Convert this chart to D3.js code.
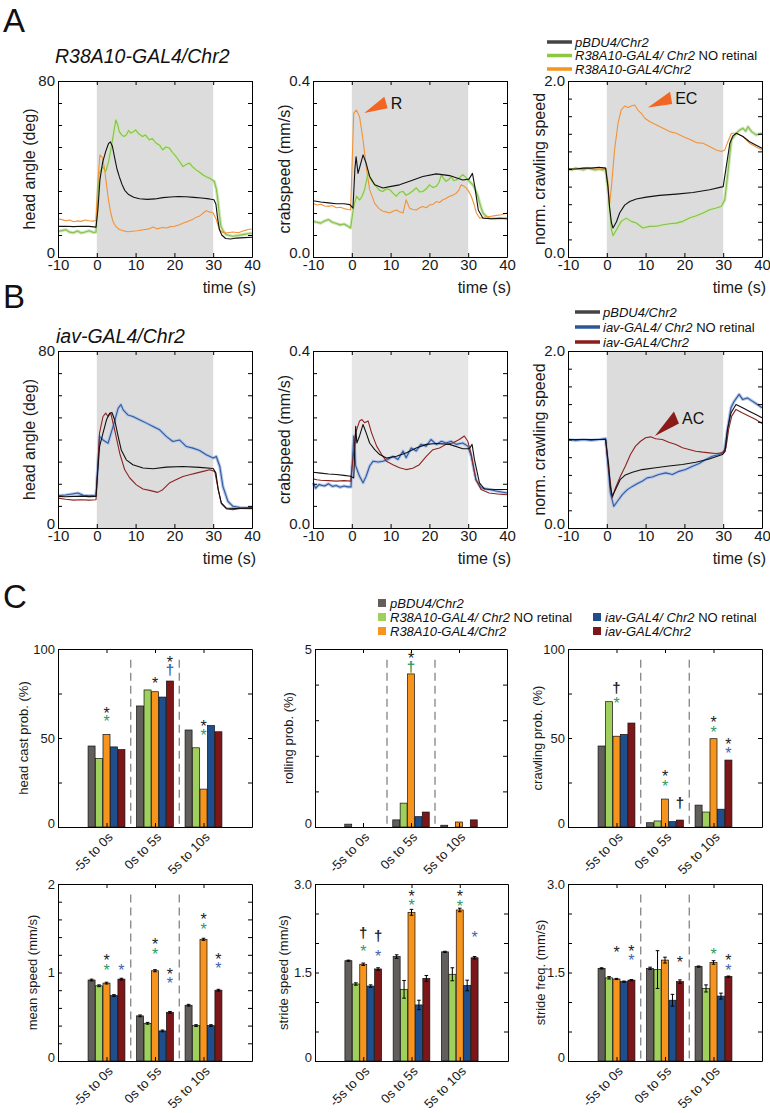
<!DOCTYPE html>
<html><head><meta charset="utf-8">
<script src="https://cdn.jsdelivr.net/npm/d3@7"></script>
<style>body{margin:0;background:#fff}svg{display:block}text{font-family:"Liberation Sans",Arial,Helvetica,sans-serif;white-space:pre}</style>
</head><body><svg id="fig" width="770" height="1113"></svg>
<script>
// ---------------- DATA ----------------
const timeTicks = [-10, 0, 10, 20, 30, 40];
const stimWindow = [0, 30];
const headAngleTicks = [0,10,20,30,40,50,60,70,80];
const crabTicks = [0,0.05,0.1,0.15,0.2,0.25,0.3,0.35,0.4];
const normTicks = [0,0.2,0.4,0.6,0.8,1.0,1.2,1.4,1.6,1.8,2.0];

// Panel A: R38A10 (black = pBDU4, green = no retinal, orange = R38A10)
const A_head_black = [[-10,13.9],[-8,14.0],[-6,13.8],[-4,14.0],[-2,13.9],[-0.2,13.6],[0.3,22],[0.8,35],[1.5,43],[2.3,48],[3.0,51.5],[3.5,52.3],[4.0,50.5],[4.5,46],[5.2,40],[5.8,36.5],[6.5,33],[7.2,30.3],[8.2,28.4],[9.5,27.2],[11,26.5],[13,26.2],[15,26.4],[17,27],[19,27.3],[21,27.5],[23,27.4],[25,27.1],[27,26.8],[29,26.4],[30.2,26],[30.7,24],[31.1,18],[31.6,12.5],[32.2,10],[33.2,8.4],[34.5,8.2],[36,8.6],[38,8.8],[40,9.0]];
const A_head_green = [[-10,11.6],[-9,12.0],[-8,12.4],[-7,11.3],[-6,11.0],[-5,11.8],[-4,10.9],[-3,11.4],[-2,11.9],[-1,11.2],[-0.2,11.3],[0.6,38],[1.5,41],[2.3,38.9],[3,43],[3.6,48.7],[4.3,56],[4.9,62.3],[5.4,60],[5.8,57],[6.4,55.5],[7,54.8],[7.6,55.5],[8.2,57.5],[8.8,56.3],[9.5,57],[10,57.8],[10.8,56],[11.8,54.8],[12.5,55.5],[13.5,53.3],[14.3,53.8],[15.3,51.7],[16.2,50.8],[17,48.7],[17.8,50],[18.7,49.5],[19.5,47.5],[20.4,45.7],[21.3,43.5],[22.2,41.1],[23,42],[23.9,42.7],[24.7,41],[25.6,39.6],[26.5,38.5],[27.3,37.4],[28.2,36.5],[29,35.9],[30.3,34.3],[30.8,31],[31.2,26],[31.6,19],[32,13.9],[32.7,11.5],[33.4,10.1],[35,9.4],[36.5,9.8],[38,10.3],[39,10.6],[40,10.9]];
const A_head_orange = [[-10,17.4],[-9,17.0],[-8,16.5],[-7,16.8],[-6,16.0],[-5,16.4],[-4,16.2],[-3,16.8],[-2,16.5],[-1,16.3],[-0.2,16.6],[0.3,35],[0.8,46.4],[1.5,45],[2.0,40],[2.5,33],[3.0,26],[3.6,20],[4.2,16],[4.9,13.9],[5.8,12.5],[6.6,12],[8,11.5],[9.2,11.7],[10.5,11.9],[12,12.4],[13.5,12.8],[14.5,13.6],[15.5,12.8],[17,13.4],[18,13.2],[19,13.8],[20,14.0],[21.3,14.7],[22.5,15.6],[23.5,16.2],[24.7,17],[25.5,18],[26.5,18.6],[27.3,19.8],[28.2,21],[29,20.5],[30,20],[30.8,17],[31.6,12.4],[32.4,11.2],[33.4,10.9],[35,11.4],[36.5,11.0],[38,12],[39,12.5],[40,12.7]];

const A_crab_black = [[-10,0.128],[-8,0.125],[-6,0.123],[-4,0.121],[-2,0.121],[-0.5,0.119],[0.3,0.111],[0.8,0.2],[1.1,0.228],[1.6,0.19],[2.1,0.206],[2.9,0.232],[3.7,0.213],[4.6,0.183],[5.9,0.164],[8,0.157],[9.8,0.160],[12.3,0.164],[14.9,0.172],[18.3,0.183],[21.8,0.189],[25.2,0.185],[28.6,0.175],[30.2,0.177],[31.1,0.19],[31.7,0.160],[32.6,0.107],[33.8,0.088],[36,0.087],[38,0.088],[40,0.087]];
const A_crab_green = [[-10,0.081],[-9,0.079],[-8,0.077],[-7,0.082],[-6,0.085],[-5,0.079],[-4,0.076],[-3,0.073],[-2,0.075],[-1,0.07],[-0.3,0.066],[0.5,0.115],[1.2,0.138],[2,0.13],[2.6,0.137],[3.3,0.153],[4.2,0.191],[5,0.175],[5.6,0.168],[6.3,0.16],[7.1,0.152],[8,0.149],[8.9,0.155],[9.8,0.153],[10.6,0.145],[11.5,0.138],[12.3,0.147],[13.2,0.149],[14,0.14],[14.9,0.145],[15.7,0.15],[16.6,0.157],[17.5,0.148],[18.3,0.149],[19.2,0.155],[20,0.164],[20.9,0.158],[21.8,0.161],[22.5,0.17],[23.1,0.187],[23.7,0.178],[24.3,0.172],[25,0.176],[25.6,0.183],[26.2,0.174],[26.9,0.175],[27.7,0.18],[28.6,0.187],[29.3,0.182],[29.9,0.175],[30.5,0.17],[31.2,0.164],[31.9,0.152],[32.5,0.138],[33.2,0.115],[33.8,0.1],[34.6,0.093],[35.5,0.088],[37,0.087],[38.5,0.088],[40,0.088]];
const A_crab_orange = [[-10,0.122],[-9,0.118],[-8,0.12],[-7,0.116],[-6,0.115],[-5,0.117],[-4,0.112],[-3,0.113],[-2,0.11],[-1,0.108],[-0.3,0.107],[0.5,0.327],[1.2,0.334],[2,0.319],[2.9,0.266],[3.7,0.206],[4.6,0.153],[5.9,0.122],[7,0.11],[8,0.104],[9,0.102],[9.8,0.1],[10.6,0.104],[11.5,0.107],[12.3,0.103],[13.2,0.1],[14,0.13],[14.9,0.111],[15.7,0.108],[16.6,0.107],[17.5,0.112],[18.3,0.115],[19.2,0.112],[20,0.118],[21,0.12],[21.8,0.126],[22.6,0.124],[23.5,0.13],[24.3,0.133],[25.2,0.138],[26,0.14],[26.9,0.145],[27.6,0.152],[28.2,0.164],[29,0.16],[29.5,0.157],[30.2,0.148],[30.8,0.138],[31.5,0.12],[32.1,0.1],[33,0.088],[34,0.09],[35.5,0.092],[37,0.094],[38.5,0.096],[40,0.1]];

const A_norm_black = [[-10,1.0],[-8,1.0],[-6,1.01],[-4,1.01],[-2,1.02],[-0.3,1.01],[0.3,0.8],[0.7,0.57],[1.2,0.386],[1.6,0.33],[2.5,0.40],[3.3,0.5],[4.6,0.59],[5.9,0.63],[7.6,0.66],[10.2,0.68],[13.6,0.70],[17.9,0.715],[22.2,0.733],[26.5,0.764],[30,0.80],[30.8,1.03],[31.7,1.29],[32.5,1.376],[33.4,1.406],[35.1,1.369],[36.8,1.31],[38.5,1.27],[40,1.236]];
const A_norm_green = [[-10,1.0],[-9,0.99],[-8,1.01],[-7,1.0],[-6,0.99],[-5,1.01],[-4,1.0],[-3,0.99],[-2,1.0],[-1,0.99],[-0.3,1.0],[0.3,0.76],[1.2,0.31],[1.6,0.242],[2.5,0.31],[3.7,0.405],[5,0.442],[6.3,0.405],[7.6,0.386],[9.3,0.33],[11,0.348],[12.8,0.35],[14.5,0.367],[16.2,0.378],[17.9,0.385],[19.6,0.405],[21.3,0.442],[23.1,0.469],[24.8,0.5],[26.5,0.537],[28.2,0.556],[29.5,0.575],[30.4,0.65],[31.2,0.953],[32.1,1.33],[33.4,1.406],[34.3,1.444],[35.1,1.463],[35.8,1.43],[36.4,1.48],[37.3,1.425],[38.5,1.388],[40,1.406]];
const A_norm_orange = [[-10,1.0],[-8,1.0],[-6,1.01],[-4,1.01],[-2,1.01],[-0.3,1.01],[0.3,0.85],[0.7,0.594],[1.2,0.80],[2,1.217],[2.9,1.52],[3.7,1.67],[4.6,1.716],[5.5,1.70],[6.3,1.716],[7.2,1.728],[8,1.67],[8.9,1.633],[9.8,1.577],[11,1.539],[12.8,1.50],[14.5,1.463],[16.2,1.425],[17.9,1.406],[19.6,1.369],[21.3,1.338],[23.1,1.30],[24.8,1.293],[26.5,1.255],[28.2,1.217],[29.5,1.198],[30.4,1.217],[31.2,1.31],[32.1,1.406],[33.4,1.406],[35.1,1.369],[36.8,1.293],[38.5,1.25],[40,1.217]];

// Panel B: iav (black = pBDU4, blue = no retinal, red = iav)
const B_head_black = [[-10,14.3],[-8,14.1],[-6,14.3],[-4,14.4],[-2,14.2],[-0.2,14.3],[0.7,36.8],[1.6,42.9],[2.5,48.9],[3.3,51.9],[3.9,52.2],[4.6,48.9],[5.5,41.4],[6.3,35.3],[7.6,30.8],[9.3,28.6],[11.9,27.1],[14.5,26.8],[17.9,27.5],[22.2,27.8],[26.5,27.4],[30,26.9],[30.7,24.8],[31.3,17.3],[32.1,11.3],[33.4,9],[36,8.8],[40,9]];
const B_head_blue = [[-10,14.6],[-8,14.9],[-6,15.5],[-4.9,15.8],[-3.5,14.8],[-2,14.6],[-0.2,14.8],[0.7,41.4],[1.6,39.8],[2.9,38.3],[4.2,45.9],[5.5,54.1],[6.2,55.8],[6.8,53.4],[8,51.1],[9.3,50.4],[11,48.9],[12.8,47.4],[14.5,45.9],[16.2,44.4],[17.9,41.4],[19.6,39.1],[21.3,39.8],[23.1,36.8],[24.8,36.1],[26.5,35],[28.2,33.1],[30,31.6],[30.8,32.3],[31.7,27.8],[32.5,18.8],[33.8,12],[35.1,9.8],[37,9.2],[40,9]];
const B_head_red = [[-10,13.5],[-8,13.0],[-6,12.6],[-4,12.8],[-2,12.6],[-0.2,12.8],[0.7,42.9],[1.6,50.4],[2.3,51.9],[2.9,50.4],[3.6,51.9],[4.6,44.4],[5.9,33.8],[7.2,26.3],[8.5,22.6],[10.2,19.5],[11.9,17.6],[13.6,17],[15.7,16.1],[17,17.3],[18.7,20.3],[20.4,21.8],[22.2,23.3],[23.9,24.1],[25.6,24.8],[27.4,25.6],[29.1,26.3],[30.4,25.6],[31.3,17.3],[32.1,11],[33.4,8.6],[35.1,8.3],[37,8.8],[40,9]];

const B_crab_black = [[-10,0.126],[-8,0.124],[-6,0.122],[-4,0.121],[-2,0.119],[-0.3,0.117],[0.5,0.113],[1,0.23],[1.3,0.192],[2,0.208],[2.9,0.234],[3.7,0.215],[4.6,0.192],[5.9,0.177],[7.2,0.166],[8.9,0.158],[11.5,0.162],[14.1,0.170],[16.6,0.181],[19.2,0.189],[21.8,0.191],[25.2,0.189],[28.6,0.179],[30.3,0.179],[31,0.189],[31.6,0.155],[32.9,0.102],[34.2,0.088],[37,0.087],[40,0.087]];
const B_crab_blue = [[-10,0.102],[-9.3,0.09],[-8.5,0.098],[-7,0.095],[-6,0.1],[-5,0.094],[-4,0.096],[-3,0.092],[-2,0.095],[-1,0.093],[-0.2,0.093],[0.5,0.208],[1,0.140],[2,0.117],[2.9,0.102],[3.7,0.117],[4.6,0.140],[5.5,0.151],[6.8,0.149],[8,0.151],[9.3,0.155],[10.6,0.162],[11.9,0.155],[13.2,0.174],[14,0.159],[15.3,0.181],[16.6,0.174],[17.8,0.189],[19.2,0.185],[20.4,0.2],[21.8,0.189],[23.1,0.196],[24.3,0.192],[25.6,0.196],[26.9,0.189],[28.6,0.192],[29.9,0.185],[30.8,0.162],[32,0.109],[33.3,0.091],[35.4,0.087],[37.5,0.083],[40,0.079]];
const B_crab_red = [[-10,0.111],[-9,0.109],[-8,0.108],[-6,0.107],[-4,0.106],[-2,0.107],[-0.3,0.106],[1,0.215],[2,0.242],[2.6,0.245],[3.3,0.238],[4.2,0.242],[5.1,0.215],[6.4,0.185],[7.7,0.166],[8.9,0.151],[10.6,0.143],[12.3,0.136],[14,0.132],[15.7,0.135],[17.4,0.143],[19.2,0.162],[20.9,0.177],[22.6,0.181],[24.3,0.189],[26,0.192],[27.7,0.2],[29,0.208],[29.9,0.196],[30.7,0.170],[32,0.109],[33.3,0.087],[35.4,0.079],[37.5,0.077],[40,0.075]];

const B_norm_black = [[-10,1.0],[-6,1.0],[-2,1.0],[-0.3,1.0],[0.5,0.70],[0.9,0.47],[1.4,0.36],[2.2,0.43],[3.5,0.55],[4.8,0.60],[6.6,0.63],[9.1,0.66],[12.6,0.68],[16,0.70],[19.5,0.717],[22.9,0.743],[26.4,0.78],[29.8,0.83],[30.5,0.868],[31.1,1.113],[32,1.30],[33.3,1.396],[35,1.358],[36.7,1.32],[38.4,1.283],[40,1.245]];
const B_norm_blue = [[-10,1.0],[-8,0.99],[-6,1.0],[-4,0.99],[-2,1.0],[-0.3,1.01],[0.9,0.4],[1.8,0.245],[2.7,0.30],[4,0.377],[5.3,0.434],[6.6,0.47],[7.8,0.50],[9.1,0.528],[10.4,0.566],[11.7,0.577],[13.4,0.604],[15.2,0.623],[16.9,0.604],[18.6,0.64],[20.3,0.66],[22.1,0.698],[23.8,0.728],[25.5,0.774],[27.2,0.81],[29,0.83],[30.3,0.868],[31.1,1.113],[32,1.358],[32.8,1.43],[34.1,1.51],[35,1.453],[36.2,1.47],[37.5,1.434],[38.8,1.396],[40,1.358]];
const B_norm_red = [[-10,1.0],[-6,1.0],[-2,1.0],[-0.3,1.0],[0.5,0.66],[1.4,0.34],[2.2,0.45],[3.5,0.585],[4.8,0.70],[6.1,0.83],[7.4,0.925],[8.7,0.98],[10,1.02],[11.3,1.03],[12.6,1.008],[14.3,1.0],[16,0.97],[17.8,0.943],[19.5,0.906],[21.2,0.887],[22.9,0.868],[24.7,0.857],[26.4,0.849],[28.1,0.842],[29.8,0.849],[30.7,0.906],[31.4,1.113],[32.2,1.264],[33.3,1.34],[35,1.30],[36.7,1.264],[38.4,1.226],[40,1.18]];

// Arrow annotations (data coordinates): [tip, upper, lower]
const arrowR = [[3.22,0.327],[8.38,0.364],[9.25,0.338]];
const arrowEC = [[10.6,1.70],[16.3,1.878],[16.85,1.739]];
const arrowAC = [[12.4,1.04],[17.3,1.315],[18.6,1.18]];

// Panel C bar data: rows = genotypes, columns = time windows
const categories = ['-5s to 0s', '0s to 5s', '5s to 10s'];
const genotypes = ['pBDU4/Chr2', 'R38A10-GAL4/ Chr2 NO retinal', 'R38A10-GAL4/Chr2', 'iav-GAL4/ Chr2 NO retinal', 'iav-GAL4/Chr2'];
const headCast = [[45.5,68,54.5],[38.5,77,44.5],[52,76,21.3],[45,73,57],[43.5,82,53.5]];
const rolling = [[0.08,0.2,0.05],[0,0.67,0],[0,4.3,0.14],[0,0.29,0],[0,0.42,0.2]];
const crawling = [[45.5,2.4,12.3],[70.4,3.4,8.4],[51,15.7,49.6],[52,3,10],[58.4,3.9,37.6]];
const meanSpeed = [[0.915,0.51,0.63],[0.85,0.426,0.40],[0.88,1.02,1.375],[0.74,0.34,0.40],[0.925,0.55,0.80]];
const meanSpeedErr = [[0.01,0.01,0.01],[0.01,0.01,0.01],[0.01,0.012,0.012],[0.01,0.01,0.01],[0.01,0.01,0.01]];
const strideSpeed = [[1.70,1.77,1.85],[1.305,1.215,1.47],[1.64,2.52,2.56],[1.27,0.95,1.28],[1.56,1.40,1.75]];
const strideSpeedErr = [[0.01,0.03,0.01],[0.02,0.15,0.11],[0.02,0.05,0.03],[0.02,0.08,0.09],[0.02,0.05,0.02]];
const strideFreq = [[1.57,1.57,1.60],[1.41,1.55,1.23],[1.39,1.71,1.67],[1.345,1.03,1.10],[1.37,1.345,1.43]];
const strideFreqErr = [[0.01,0.02,0.01],[0.02,0.32,0.06],[0.01,0.05,0.03],[0.01,0.1,0.05],[0.01,0.03,0.01]];
// significance marks: [window, genotype, height, symbol, colour]
const headCastMarks = [[0,2,66,'*','k'],[0,2,61,'*','g'],[1,2,82.6,'*','k'],[1,4,94.5,'*','k'],[1,4,88,'†','b'],[2,2,58.6,'*','k'],[2,2,53.4,'*','g']];
const rollingMarks = [[1,2,4.82,'*','k'],[1,2,4.5,'†','g']];
const crawlingMarks = [[0,2,78,'†','k'],[0,2,71.3,'*','g'],[1,2,30.3,'*','k'],[1,2,24.7,'*','g'],[1,4,13.5,'†','k'],[2,2,60.7,'*','k'],[2,2,55,'*','g'],[2,4,48.3,'*','k'],[2,4,43.3,'*','b']];
const meanSpeedMarks = [[0,2,1.175,'*','k'],[0,2,1.062,'*','g'],[0,4,1.062,'*','b'],[1,2,1.36,'*','k'],[1,2,1.246,'*','g'],[1,4,1.017,'*','k'],[1,4,0.915,'*','b'],[2,2,1.638,'*','k'],[2,2,1.529,'*','g'],[2,4,1.186,'*','k'],[2,4,1.085,'*','b']];
const strideSpeedMarks = [[0,2,2.175,'†','k'],[0,2,1.915,'*','g'],[0,4,2.12,'†','k'],[0,4,1.835,'*','b'],[1,2,2.85,'*','k'],[1,2,2.70,'*','g'],[2,2,2.85,'*','k'],[2,2,2.68,'*','g'],[2,4,2.15,'*','b']];
const strideFreqMarks = [[0,2,1.893,'*','k'],[0,4,1.915,'*','k'],[0,4,1.763,'*','b'],[1,4,1.73,'*','k'],[2,2,1.87,'*','g'],[2,4,1.758,'*','k'],[2,4,1.60,'*','b']];

// ---------------- STYLE ----------------
const FONT = '"Liberation Sans", Arial, Helvetica, sans-serif';
const barColors = ['#615e5b', '#9fd05c', '#f7941d', '#1f4e8d', '#7d1618'];
const markColors = {k:'#222', g:'#2f9a63', b:'#3f62b0'};
const C = {black:'#111', green:'#86bf4e', greenBand:'#cfe6b6', orange:'#f39237', blue:'#2d5aa0', blueBand:'#b7c6e6', red:'#8e2323'};

const svg = d3.select('#fig');
svg.append('rect').attr('width',770).attr('height',1113).attr('fill','#fff');

function styleAxis(g, fs) {
  g.attr('font-family', FONT).attr('font-size', fs);
  g.select('.domain').attr('stroke', '#000').attr('stroke-width', 1);
  g.selectAll('.tick line').attr('stroke', '#000');
  g.selectAll('.tick text').attr('fill', '#1a1a1a');
}
function frame(x, y, xTicks, yTicks, yFmt, xFmt, fs, xPad) {
  const [x0, x1] = x.range(); const [y0, y1] = y.range();
  let g;
  g = svg.append('g').attr('transform', `translate(0,${y0})`).call(d3.axisBottom(x).tickValues(xTicks).tickFormat(xFmt).tickSizeInner(-4).tickSizeOuter(0).tickPadding(xPad)); styleAxis(g, fs);
  g = svg.append('g').attr('transform', `translate(0,${y1})`).call(d3.axisTop(x).tickValues(xTicks).tickFormat('').tickSizeInner(-4).tickSizeOuter(0)); styleAxis(g, fs);
  g = svg.append('g').attr('transform', `translate(${x0},0)`).call(d3.axisLeft(y).tickValues(yTicks).tickFormat(yFmt).tickSizeInner(-4).tickSizeOuter(0).tickPadding(3)); styleAxis(g, fs);
  // lift the lowest label slightly so it clears the x tick labels (as in the original)
  g.selectAll('.tick').filter(d => d === yTicks[0]).select('text').attr('dy', '0.05em');
  g = svg.append('g').attr('transform', `translate(${x1},0)`).call(d3.axisRight(y).tickValues(yTicks).tickFormat('').tickSizeInner(-4).tickSizeOuter(0)); styleAxis(g, fs);
}
function yLabel(x, y, txt, fs) {
  svg.append('text').attr('transform', `translate(${x},${y}) rotate(-90)`).attr('text-anchor', 'middle')
    .attr('font-size', fs).attr('fill', '#1a1a1a').text(txt);
}

function linePanel(c) {
  const x = d3.scaleLinear().domain([-10, 40]).range([c.left, c.left + c.w]);
  const y = d3.scaleLinear().domain(c.yDomain).range([c.top + c.h, c.top]);
  svg.append('rect').attr('x', x(stimWindow[0])).attr('y', c.top).attr('width', x(stimWindow[1]) - x(stimWindow[0]))
    .attr('height', c.h).attr('fill', c.shade || '#dcdcdc');
  const line = d3.line().x(d => x(d[0])).y(d => y(d[1]));
  c.series.forEach(s => {
    if (s.band) svg.append('path').datum(s.data).attr('d', line).attr('fill', 'none').attr('stroke', s.band)
      .attr('stroke-width', 3.2).attr('stroke-linejoin', 'round');
    svg.append('path').datum(s.data).attr('d', line).attr('fill', 'none').attr('stroke', s.color)
      .attr('stroke-width', 1.1).attr('stroke-linejoin', 'round');
  });
  frame(x, y, timeTicks, c.yTicks, c.yFmt, d => d, 15, 2);
  yLabel(c.left - 23, c.top + c.h / 2, c.ylabel, 16);
  svg.append('text').attr('x', c.left + c.w + 4).attr('y', c.top + c.h + 36).attr('text-anchor', 'end')
    .attr('font-size', 16).attr('fill', '#1a1a1a').text('time (s)');
  if (c.arrow) {
    svg.append('path').attr('d', d3.line().x(d => x(d[0])).y(d => y(d[1]))(c.arrow.pts) + 'Z').attr('fill', c.arrow.color);
    const last = c.arrow.pts[2];
    svg.append('text').attr('x', x(last[0]) + 3).attr('y', y(c.arrow.pts[1][1]) + 12).attr('font-size', 16)
      .attr('fill', '#111').text(c.arrow.label);
  }
}

function barPanel(c) {
  const x = d3.scalePoint().domain(categories).range([c.left, c.left + c.w]).padding(1);
  const step = x.step();
  const xb = d3.scaleBand().domain(d3.range(genotypes.length)).range([-0.38 * step, 0.38 * step]).paddingInner(0.06);
  const y = d3.scaleLinear().domain([0, c.yMax]).range([c.top + c.h, c.top]);
  if (c.dashed) {
    for (let i = 0; i < categories.length - 1; i++) {
      const mx = (x(categories[i]) + x(categories[i + 1])) / 2;
      svg.append('line').attr('x1', mx).attr('x2', mx).attr('y1', y(c.yMax * 0.94)).attr('y2', y(0))
        .attr('stroke', '#7a7a7a').attr('stroke-width', 1.2).attr('stroke-dasharray', '8,5');
    }
  }
  c.values.forEach((row, gi) => row.forEach((v, ci) => {
    const bx = x(categories[ci]) + xb(gi);
    svg.append('rect').attr('x', bx).attr('y', y(v)).attr('width', xb.bandwidth()).attr('height', y(0) - y(v))
      .attr('fill', barColors[gi]).attr('stroke', '#111').attr('stroke-width', 0.7);
    if (c.errors) {
      const e = c.errors[gi][ci], cx = bx + xb.bandwidth() / 2;
      svg.append('line').attr('x1', cx).attr('x2', cx).attr('y1', y(v - e)).attr('y2', y(v + e)).attr('stroke', '#000').attr('stroke-width', 1);
      [v - e, v + e].forEach(t => svg.append('line').attr('x1', cx - 1.8).attr('x2', cx + 1.8).attr('y1', y(t)).attr('y2', y(t)).attr('stroke', '#000').attr('stroke-width', 1));
    }
  }));
  (c.marks || []).forEach(m => {
    const cx = x(categories[m[0]]) + xb(m[1]) + xb.bandwidth() / 2;
    const isStar = m[3] === '*';
    svg.append('text').attr('x', cx).attr('y', y(m[2]) + (isStar ? 9 : 5)).attr('text-anchor', 'middle')
      .attr('font-size', isStar ? 16 : 15).attr('font-weight', isStar ? 'normal' : 'bold').attr('fill', markColors[m[4]]).text(m[3]);
  });
  frame(x, y, categories, c.yTicks, c.yFmt, '', 13, 3);
  categories.forEach(cat => {
    svg.append('text').attr('transform', `translate(${x(cat) + 7},${c.top + c.h + 11}) rotate(-45)`)
      .attr('text-anchor', 'end').attr('font-size', 13).attr('fill', '#1a1a1a').text(cat);
  });
  yLabel(c.left - c.labOff, c.top + c.h / 2, c.ylabel, 13);
}

// ---------------- PANEL LETTERS & TITLES ----------------
[['A', 32], ['B', 308], ['C', 608]].forEach(([t, yy]) =>
  svg.append('text').attr('x', 3).attr('y', yy).attr('font-size', 33).attr('fill', '#111').text(t));
svg.append('text').attr('x', 55).attr('y', 63).attr('font-size', 19.5).attr('font-style', 'italic').attr('fill', '#111').text('R38A10-GAL4/Chr2');
svg.append('text').attr('x', 56).attr('y', 343).attr('font-size', 19.5).attr('font-style', 'italic').attr('fill', '#111').text('iav-GAL4/Chr2');

// line legends
function lineLegend(x0, rows, entries) {
  entries.forEach((e, i) => {
    svg.append('line').attr('x1', x0).attr('x2', x0 + 25).attr('y1', rows[i]).attr('y2', rows[i]).attr('stroke', e.color).attr('stroke-width', 3.5);
    const t = svg.append('text').attr('x', x0 + 28).attr('y', rows[i] + 4.5).attr('font-size', 13).attr('fill', '#111');
    e.parts.forEach(p => t.append('tspan').attr('font-style', p[1]).text(p[0]));
  });
}
lineLegend(547, [42, 55.5, 69], [
  {color: '#444', parts: [['pBDU4/Chr2', 'italic']]},
  {color: '#8dc63f', parts: [['R38A10-GAL4/ Chr2', 'italic'], [' NO retinal', 'normal']]},
  {color: '#f7941d', parts: [['R38A10-GAL4/Chr2', 'italic']]}]);
lineLegend(575, [312, 327, 342], [
  {color: '#444', parts: [['pBDU4/Chr2', 'italic']]},
  {color: '#2b5797', parts: [['iav-GAL4/ Chr2', 'italic'], [' NO retinal', 'normal']]},
  {color: '#8b1c1c', parts: [['iav-GAL4/Chr2', 'italic']]}]);

// ---------------- PANELS A & B ----------------
const cols = [58, 313, 568];
const fmtHead = d => (d === 0 || d === 80) ? d : '';
const fmtCrab = d => (d === 0 || d === 0.4) ? d3.format('.1f')(d) : '';
const fmtNorm = d => (d === 0 || d === 2) ? d3.format('.1f')(d) : '';
[[81, 176, [A_head_green, A_head_orange, A_head_black], [A_crab_green, A_crab_orange, A_crab_black], [A_norm_green, A_norm_orange, A_norm_black], C.green, C.greenBand, C.orange, '#dcdcdc'],
 [351, 177, [B_head_blue, B_head_red, B_head_black], [B_crab_blue, B_crab_red, B_crab_black], [B_norm_blue, B_norm_red, B_norm_black], C.blue, C.blueBand, C.red, '#e6e6e6']]
.forEach(([top, h, head, crab, norm, ctrlCol, band, expCol, crabShade], ri) => {
  const mk = arr => [{data: arr[0], color: ctrlCol, band: band}, {data: arr[1], color: expCol}, {data: arr[2], color: C.black}];
  linePanel({left: cols[0], top, w: 194, h, yDomain: [0, 80], yTicks: headAngleTicks, yFmt: fmtHead, ylabel: 'head angle (deg)', series: mk(head)});
  linePanel({left: cols[1], top, w: 194, h, yDomain: [0, 0.4], yTicks: crabTicks, yFmt: fmtCrab, ylabel: 'crabspeed (mm/s)', series: mk(crab), shade: crabShade,
    arrow: ri === 0 ? {pts: arrowR, color: '#f26522', label: 'R'} : null});
  linePanel({left: cols[2], top, w: 194, h, yDomain: [0, 2], yTicks: normTicks, yFmt: fmtNorm, ylabel: 'norm. crawling speed', series: mk(norm),
    arrow: ri === 0 ? {pts: arrowEC, color: '#f26522', label: 'EC'} : {pts: arrowAC, color: '#8b1a1a', label: 'AC'}});
});

// ---------------- PANEL C ----------------
const legPos = [[378, 603], [378, 617], [378, 631], [593, 617], [593, 631]];
const legParts = [[['pBDU4/Chr2', 'italic']], [['R38A10-GAL4/ Chr2', 'italic'], [' NO retinal', 'normal']], [['R38A10-GAL4/Chr2', 'italic']],
  [['iav-GAL4/ Chr2', 'italic'], [' NO retinal', 'normal']], [['iav-GAL4/Chr2', 'italic']]];
genotypes.forEach((gname, i) => {
  const [lx, ly] = legPos[i];
  svg.append('rect').attr('x', lx).attr('y', ly - 4).attr('width', 8).attr('height', 8).attr('fill', barColors[i]);
  const t = svg.append('text').attr('x', lx + 12).attr('y', ly + 4.5).attr('font-size', 13).attr('fill', '#111');
  legParts[i].forEach(p => t.append('tspan').attr('font-style', p[1]).text(p[0]));
});

const pctTicks = [0, 25, 50, 75, 100];
const fmtPct = d => (d % 50 === 0) ? d : '';
barPanel({left: 58, top: 649, w: 194, h: 178, yMax: 100, yTicks: pctTicks, yFmt: fmtPct, ylabel: 'head cast prob. (%)', labOff: 30, values: headCast, marks: headCastMarks, dashed: true});
barPanel({left: 315, top: 649, w: 192, h: 178, yMax: 5, yTicks: [0, 1, 2, 3, 4, 5], yFmt: d => (d === 0 || d === 5) ? d : '', ylabel: 'rolling prob. (%)', labOff: 22, values: rolling, marks: rollingMarks, dashed: true});
barPanel({left: 568, top: 649, w: 194, h: 178, yMax: 100, yTicks: pctTicks, yFmt: fmtPct, ylabel: 'crawling prob. (%)', labOff: 26, values: crawling, marks: crawlingMarks, dashed: true});
barPanel({left: 58, top: 884, w: 194, h: 177, yMax: 2, yTicks: d3.range(0, 11).map(i => i * 0.2), yFmt: d => [0, 1, 2].some(v => Math.abs(d - v) < 1e-6) ? Math.round(d) : '', ylabel: 'mean speed (mm/s)', labOff: 21, values: meanSpeed, errors: meanSpeedErr, marks: meanSpeedMarks, dashed: true});
const strideTicks = [0, 0.5, 1, 1.5, 2, 2.5, 3];
const fmtStride = d => d === 0 ? '0' : (d === 1.5 || d === 3) ? d3.format('.1f')(d) : '';
barPanel({left: 315, top: 884, w: 193, h: 177, yMax: 3, yTicks: strideTicks, yFmt: fmtStride, ylabel: 'stride speed (mm/s)', labOff: 27, values: strideSpeed, errors: strideSpeedErr, marks: strideSpeedMarks, dashed: false});
barPanel({left: 568, top: 884, w: 194, h: 177, yMax: 3, yTicks: strideTicks, yFmt: fmtStride, ylabel: 'stride freq. (mm/s)', labOff: 23, values: strideFreq, errors: strideFreqErr, marks: strideFreqMarks, dashed: true});
</script></body></html>
